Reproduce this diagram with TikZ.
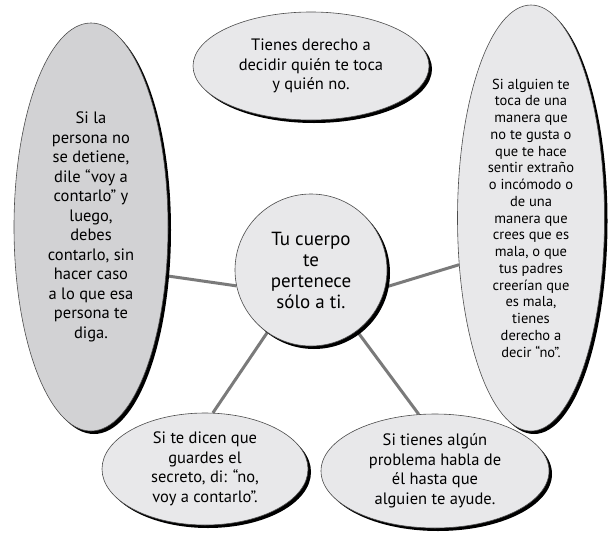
\documentclass[tikz,border=0pt]{standalone}
\usepackage{fontspec}
\setmainfont{PT Sans}
\usetikzlibrary{shapes.geometric,shadows,backgrounds}
\definecolor{burbuja}{HTML}{E8E8EA}
\definecolor{burbujaosc}{HTML}{D2D2D4}
\definecolor{linea}{HTML}{7A7A7A}

\begin{document}
\begin{tikzpicture}[x=1pt, y=-1pt, every node/.style={align=center},
  globo/.style={ellipse, draw=black!70, line width=0.6pt, fill=burbuja, inner sep=0pt,
    drop shadow={fill=black, opacity=1, shadow xshift=3pt, shadow yshift=-3pt}},
  letra/.style={font=\fontsize{16.5}{19.5}\selectfont},
  rama/.style={draw=linea, line width=3pt}]
\useasboundingbox (0,0) rectangle (610,538);

\node (cuerpo) [globo, circle, minimum size=152pt, font=\fontsize{19}{21}\selectfont] at (311,270) {Tu cuerpo\\te\\pertenece\\sólo a ti.};
\node (decidir) [globo, letra, minimum width=236pt, minimum height=108pt] at (311,66) {Tienes derecho a\\decidir quién te toca\\y quién no.};
\node (detiene) [globo, letra, fill=burbujaosc, minimum width=154pt, minimum height=408pt] at (91,227) {Si la\\persona no\\se detiene,\\dile “voy a\\contarlo” y\\luego,\\debes\\contarlo, sin\\hacer caso\\a lo que esa\\persona te\\diga.};
\node (alguien) [globo, font=\fontsize{14.5}{16.75}\selectfont, minimum width=147pt, minimum height=426pt] at (531,218) {Si alguien te\\toca de una\\manera que\\no te gusta o\\que te hace\\sentir extraño\\o incómodo o\\de una\\manera que\\crees que es\\mala, o que\\tus padres\\creerían que\\es mala,\\tienes\\derecho a\\decir “no”.};
\node (secreto) [globo, letra, minimum width=206pt, minimum height=112pt] at (205,469) {Si te dicen que\\guardes el\\secreto, di: “no,\\voy a contarlo”.};
\node (problema) [globo, letra, minimum width=228pt, minimum height=114pt] at (435,471) {Si tienes algún\\problema habla de\\él hasta que\\alguien te ayude.};

\begin{scope}[on background layer]
\draw[rama] (cuerpo.192) -- (detiene.-33);
\draw[rama] (cuerpo.-13) -- (alguien.213);
\draw[rama] (cuerpo.235) -- (secreto.82);
\draw[rama] (cuerpo.-53) -- (problema.106);
\end{scope}
\end{tikzpicture}
\end{document}
